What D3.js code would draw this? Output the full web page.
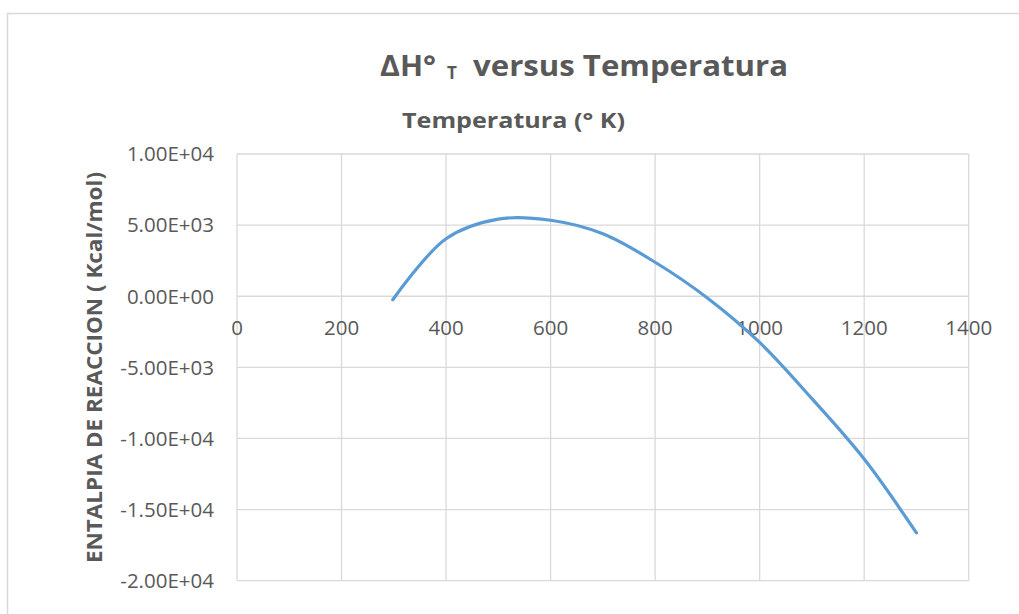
<!DOCTYPE html>
<html>
<head>
<meta charset="utf-8">
<script src="https://cdn.jsdelivr.net/npm/d3@7"></script>
<style>
  body { margin: 0; background: #fff; }
  text { font-family: "Open Sans", sans-serif; fill: #595959; }
</style>
</head>
<body>
<div id="plot"></div>
<script>
// chart data
const temperatures = [298, 400, 500, 600, 700, 800, 900, 1000, 1100, 1200, 1300];
const enthalpy = [-250, 4040, 5420, 5340, 4390, 2390, -120, -3250, -7200, -11450, -16640];
const xTicks = [0, 200, 400, 600, 800, 1000, 1200, 1400];
const yTicks = [10000, 5000, 0, -5000, -10000, -15000, -20000];

const w = 1019;
const h = 614;
const margin = {top: 154, left: 237};
const innerWidth = 968.7 - margin.left;
const innerHeight = 580.7 - margin.top;

const data = temperatures.map((t, i) => ({t: t, h: enthalpy[i]}));

const svg = d3.select("div#plot")
	.append("svg")
	.attr("width", w)
	.attr("height", h);

// outer chart frame (runs off the right and bottom)
svg.append("rect")
	.attr("x", 7.5)
	.attr("y", 13.5)
	.attr("width", w + 20)
	.attr("height", h + 20)
	.attr("fill", "#fff")
	.attr("stroke", "#d9d9d9")
	.attr("stroke-width", 1.5);

const xScale = d3.scaleLinear()
	.domain([0, 1400])
	.range([0, innerWidth]);

const yScale = d3.scaleLinear()
	.domain([-20000, 10000])
	.range([innerHeight, 0]);

const g = svg.append("g")
	.attr("transform", `translate(${margin.left}, ${margin.top})`);

// grid
g.append("g")
	.selectAll("line")
	.data(xTicks)
	.enter().append("line")
	.attr("x1", d => xScale(d))
	.attr("x2", d => xScale(d))
	.attr("y1", 0)
	.attr("y2", innerHeight)
	.attr("stroke", "#d9d9d9")
	.attr("stroke-width", 1.3);

g.append("g")
	.selectAll("line")
	.data(yTicks)
	.enter().append("line")
	.attr("x1", 0)
	.attr("x2", innerWidth)
	.attr("y1", d => yScale(d))
	.attr("y2", d => yScale(d))
	.attr("stroke", "#d9d9d9")
	.attr("stroke-width", 1.3);

// y tick labels in Excel style 1.00E+04
const fmt = function (v) {
	const parts = v.toExponential(2).toUpperCase().split("E");
	const sign = parts[1][0];
	const exp = parts[1].slice(1).padStart(2, "0");
	return parts[0] + "E" + sign + exp;
};

g.append("g")
	.selectAll("text")
	.data(yTicks)
	.enter().append("text")
	.attr("x", 214 - margin.left)
	.attr("y", d => yScale(d))
	.attr("dy", "0.36em")
	.attr("text-anchor", "end")
	.style("font-size", "20.5px")
	.text(d => fmt(d));

// x tick labels, sitting below the zero line
g.append("g")
	.selectAll("text")
	.data(xTicks)
	.enter().append("text")
	.attr("x", d => xScale(d))
	.attr("y", yScale(0) + 39)
	.attr("text-anchor", "middle")
	.style("font-size", "20.5px")
	.text(d => d);

// line
const line = d3.line()
	.x(d => xScale(d.t))
	.y(d => yScale(d.h))
	.curve(d3.curveCatmullRom.alpha(0.5));

g.append("path")
	.datum(data)
	.attr("fill", "none")
	.attr("stroke", "#5b9bd5")
	.attr("stroke-width", 3.2)
	.attr("stroke-linecap", "round")
	.attr("d", line);

// titles
svg.append("text")
	.attr("x", 380)
	.attr("y", 76)
	.attr("textLength", 56)
	.attr("lengthAdjust", "spacingAndGlyphs")
	.style("font-size", "28px")
	.style("font-weight", "bold")
	.text("ΔH°");

svg.append("text")
	.attr("x", 447)
	.attr("y", 79)
	.style("font-size", "17px")
	.style("font-weight", "bold")
	.text("T");

svg.append("text")
	.attr("x", 473)
	.attr("y", 76)
	.attr("textLength", 315)
	.attr("lengthAdjust", "spacingAndGlyphs")
	.style("font-size", "28px")
	.style("font-weight", "bold")
	.text("versus Temperatura");

svg.append("text")
	.attr("x", 402)
	.attr("y", 128)
	.attr("textLength", 223)
	.attr("lengthAdjust", "spacingAndGlyphs")
	.style("font-size", "21px")
	.style("font-weight", "bold")
	.text("Temperatura (° K)");

svg.append("text")
	.attr("transform", "translate(102, 367.5) rotate(-90)")
	.attr("text-anchor", "middle")
	.attr("textLength", 391)
	.attr("lengthAdjust", "spacingAndGlyphs")
	.style("font-size", "22px")
	.style("font-weight", "bold")
	.text("ENTALPIA DE REACCION ( Kcal/mol)");
</script>
</body>
</html>
